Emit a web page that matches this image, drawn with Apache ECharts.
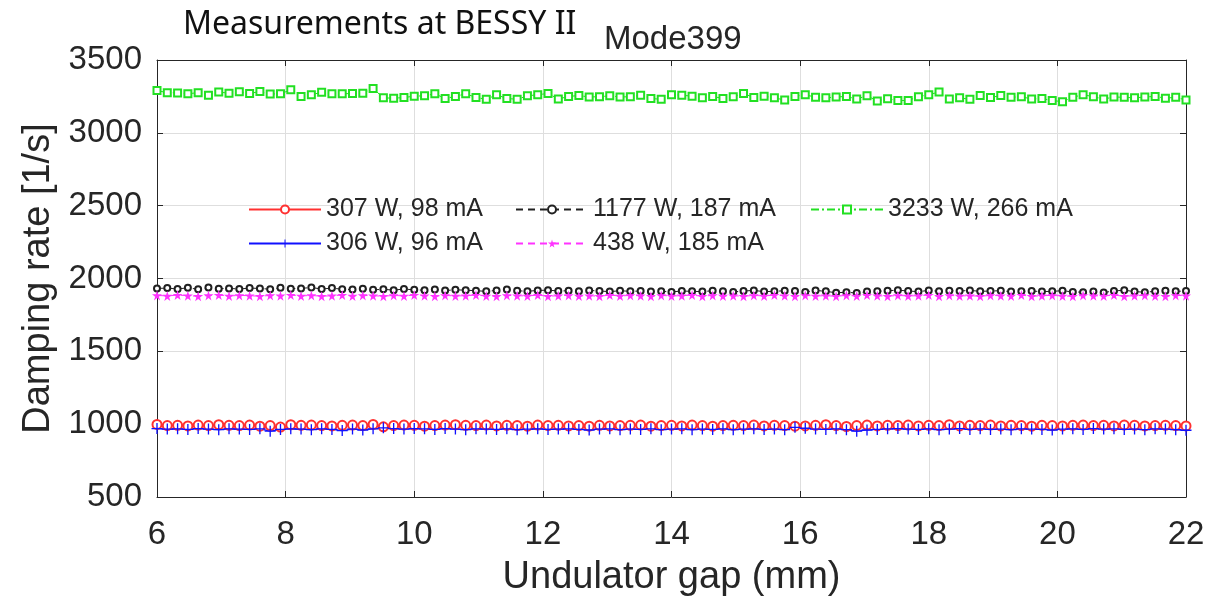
<!DOCTYPE html>
<html>
<head>
<meta charset="utf-8">
<script src="https://cdn.jsdelivr.net/npm/echarts@6/dist/echarts.min.js"></script>
<style>
html,body{margin:0;padding:0;background:#fff;}
#chart{width:1230px;height:603px;}
</style>
</head>
<body>
<div id="chart"></div>
<script>
// Undulator gap (mm)
const gaps = [6, 6.16, 6.32, 6.48, 6.64, 6.8, 6.96, 7.12, 7.28, 7.44, 7.6, 7.76, 7.92, 8.08, 8.24, 8.4, 8.56, 8.72, 8.88, 9.04, 9.2, 9.36, 9.52, 9.68, 9.84, 10, 10.16, 10.32, 10.48, 10.64, 10.8, 10.96, 11.12, 11.28, 11.44, 11.6, 11.76, 11.92, 12.08, 12.24, 12.4, 12.56, 12.72, 12.88, 13.04, 13.2, 13.36, 13.52, 13.68, 13.84, 14, 14.16, 14.32, 14.48, 14.64, 14.8, 14.96, 15.12, 15.28, 15.44, 15.6, 15.76, 15.92, 16.08, 16.24, 16.4, 16.56, 16.72, 16.88, 17.04, 17.2, 17.36, 17.52, 17.68, 17.84, 18, 18.16, 18.32, 18.48, 18.64, 18.8, 18.96, 19.12, 19.28, 19.44, 19.6, 19.76, 19.92, 20.08, 20.24, 20.4, 20.56, 20.72, 20.88, 21.04, 21.2, 21.36, 21.52, 21.68, 21.84, 22];

const seriesNames = ['307 W, 98 mA', '306 W, 96 mA', '1177 W, 187 mA', '438 W, 185 mA', '3233 W, 266 mA'];

const red307 = [998, 990, 992, 988, 994, 990, 996, 992, 990, 994,
  986, 990, 980, 996, 992, 994, 990, 988, 992, 994,
  990, 998, 982, 990, 994, 992, 986, 990, 994, 996,
  992, 990, 994, 988, 992, 990, 986, 994, 990, 992,
  988, 990, 986, 992, 988, 990, 992, 994, 986, 990,
  992, 988, 994, 990, 986, 990, 992, 990, 994, 988,
  992, 990, 986, 988, 992, 996, 990, 984, 990, 994,
  988, 992, 990, 994, 988, 992, 990, 996, 988, 992,
  990, 994, 988, 992, 990, 986, 992, 990, 988, 992,
  994, 990, 992, 988, 994, 992, 988, 990, 992, 990, 988];

const blue306 = [970, 966, 968, 964, 970, 966, 962, 968, 966, 964,
  968, 952, 964, 968, 966, 962, 968, 964, 956, 966,
  960, 968, 975, 970, 966, 970, 968, 964, 970, 966,
  962, 968, 966, 964, 968, 962, 966, 968, 964, 966,
  968, 964, 960, 966, 968, 962, 966, 964, 968, 962,
  966, 968, 962, 966, 964, 968, 962, 966, 968, 964,
  966, 962, 978, 972, 966, 964, 968, 962, 952, 960,
  964, 968, 970, 966, 964, 968, 962, 966, 970, 964,
  968, 964, 966, 962, 968, 966, 964, 960, 966, 968,
  964, 970, 966, 968, 964, 966, 962, 968, 966, 962, 958];

const black1177 = [1932, 1934, 1928, 1936, 1926, 1938, 1930, 1932, 1928, 1934,
  1932, 1926, 1936, 1930, 1932, 1938, 1928, 1934, 1926, 1924,
  1930, 1922, 1926, 1920, 1928, 1922, 1920, 1924, 1918, 1922,
  1920, 1916, 1912, 1918, 1924, 1916, 1912, 1918, 1920, 1914,
  1916, 1912, 1918, 1914, 1910, 1916, 1912, 1914, 1910, 1912,
  1908, 1914, 1912, 1910, 1916, 1912, 1908, 1914, 1918, 1910,
  1912, 1916, 1914, 1908, 1918, 1912, 1902, 1906, 1900, 1910,
  1912, 1916, 1920, 1914, 1910, 1918, 1912, 1916, 1914, 1918,
  1912, 1914, 1916, 1910, 1912, 1914, 1910, 1912, 1916, 1908,
  1906, 1910, 1904, 1914, 1920, 1910, 1906, 1912, 1916, 1912, 1914];

const magenta438 = [1884, 1880, 1886, 1882, 1878, 1884, 1886, 1880, 1884, 1882,
  1878, 1884, 1882, 1886, 1880, 1884, 1878, 1882, 1886, 1880,
  1884, 1882, 1878, 1884, 1880, 1886, 1882, 1878, 1884, 1880,
  1882, 1886, 1880, 1878, 1884, 1882, 1880, 1886, 1878, 1882,
  1884, 1880, 1882, 1878, 1886, 1880, 1884, 1882, 1878, 1884,
  1880, 1882, 1886, 1878, 1884, 1880, 1882, 1878, 1884, 1880,
  1886, 1882, 1878, 1884, 1880, 1882, 1878, 1884, 1880, 1886,
  1882, 1878, 1884, 1880, 1882, 1886, 1878, 1884, 1880, 1882,
  1878, 1884, 1882, 1880, 1886, 1878, 1882, 1884, 1880, 1878,
  1884, 1882, 1880, 1886, 1878, 1882, 1884, 1880, 1878, 1884, 1882];

const green3233 = [3290, 3276, 3274, 3268, 3276, 3258, 3280, 3272, 3282, 3270,
  3284, 3266, 3268, 3295, 3250, 3262, 3278, 3268, 3268, 3270,
  3272, 3305, 3240, 3238, 3242, 3252, 3254, 3268, 3236, 3250,
  3268, 3243, 3230, 3261, 3236, 3230, 3254, 3262, 3270, 3232,
  3250, 3256, 3246, 3248, 3254, 3246, 3248, 3258, 3236, 3230,
  3262, 3258, 3252, 3240, 3250, 3236, 3248, 3270, 3242, 3252,
  3240, 3225, 3250, 3262, 3244, 3240, 3246, 3250, 3232, 3255,
  3218, 3234, 3222, 3222, 3248, 3262, 3280, 3232, 3240, 3230,
  3256, 3242, 3256, 3244, 3248, 3232, 3235, 3222, 3214, 3244,
  3262, 3248, 3232, 3246, 3244, 3240, 3246, 3250, 3238, 3244, 3225];

const xTicks = {min: 6, max: 22, interval: 2};
const yTicks = {min: 500, max: 3500, interval: 500};

const pair = arr => gaps.map((g, i) => [g, arr[i]]);

const TXT = '#262626';
const FONT = '"Liberation Sans", Arial, sans-serif';
const plusPath = 'path://M4.4,0H5.6V4.4H10V5.6H5.6V10H4.4V5.6H0V4.4H4.4Z';
const starPath = 'path://M50,0L61,35L98,35L68,57L79,91L50,70L21,91L32,57L2,35L39,35Z';

const chart = echarts.init(document.getElementById('chart'), null, {renderer: 'canvas'});

const legendBase = {
  orient: 'horizontal', itemWidth: 72, itemHeight: 10, itemGap: 5,
  textStyle: {fontFamily: FONT, fontSize: 25, color: TXT},
  padding: 0
};

const option = {
  backgroundColor: '#ffffff',
  animation: false,
  title: [
    {text: 'Measurements at BESSY II', left: 178, top: 4,
     textStyle: {fontFamily: '"Noto Sans", sans-serif', fontWeight: 'normal', fontSize: 32, color: '#111'}},
    {text: 'Mode399', left: 599, top: 18,
     textStyle: {fontFamily: FONT, fontWeight: 'normal', fontSize: 33, color: TXT}}
  ],
  legend: [
    Object.assign({}, legendBase, {data: [seriesNames[0]], left: 248, top: 197}),
    Object.assign({}, legendBase, {data: [seriesNames[2]], left: 515, top: 197}),
    Object.assign({}, legendBase, {data: [seriesNames[4]], left: 810, top: 197}),
    Object.assign({}, legendBase, {data: [seriesNames[1]], left: 248, top: 231}),
    Object.assign({}, legendBase, {data: [seriesNames[3]], left: 515, top: 231})
  ],
  grid: {left: 157, right: 44, top: 60, bottom: 106, containLabel: false},
  xAxis: [
    {type: 'value', min: xTicks.min, max: xTicks.max, interval: xTicks.interval,
     name: 'Undulator gap (mm)', nameLocation: 'middle', nameGap: 62,
     nameTextStyle: {fontFamily: FONT, fontSize: 38, color: TXT},
     axisLine: {show: true, onZero: false, lineStyle: {color: TXT, width: 1}},
     axisTick: {show: true, inside: true, length: 6, lineStyle: {color: TXT}},
     axisLabel: {fontFamily: FONT, fontSize: 33, color: TXT, margin: 21},
     splitLine: {show: true, lineStyle: {color: '#dedede', width: 1}}},
    {type: 'value', position: 'top', min: xTicks.min, max: xTicks.max, interval: xTicks.interval,
     axisLine: {show: true, onZero: false, lineStyle: {color: TXT, width: 1}},
     axisTick: {show: true, inside: true, length: 6, lineStyle: {color: TXT}},
     axisLabel: {show: false}, splitLine: {show: false}}
  ],
  yAxis: [
    {type: 'value', min: yTicks.min, max: yTicks.max, interval: yTicks.interval,
     name: 'Damping rate [1/s]', nameLocation: 'middle', nameGap: 97, nameRotate: 90,
     nameTextStyle: {fontFamily: FONT, fontSize: 38, color: TXT},
     axisLine: {show: true, onZero: false, lineStyle: {color: TXT, width: 1}},
     axisTick: {show: true, inside: true, length: 6, lineStyle: {color: TXT}},
     axisLabel: {fontFamily: FONT, fontSize: 33, color: TXT, margin: 15,
                 formatter: v => String(v)},
     splitLine: {show: true, lineStyle: {color: '#dedede', width: 1}}},
    {type: 'value', position: 'right', min: yTicks.min, max: yTicks.max, interval: yTicks.interval,
     axisLine: {show: true, onZero: false, lineStyle: {color: TXT, width: 1}},
     axisTick: {show: true, inside: true, length: 6, lineStyle: {color: TXT}},
     axisLabel: {show: false}, splitLine: {show: false}}
  ],
  series: [
    {name: seriesNames[0], type: 'line', data: pair(red307),
     symbol: 'emptyCircle', symbolSize: 9,
     itemStyle: {color: '#ff3030', borderWidth: 1},
     lineStyle: {color: '#ff3030', width: 1, type: 'solid'}},
    {name: seriesNames[1], type: 'line', data: pair(blue306),
     symbol: plusPath, symbolSize: 11,
     itemStyle: {color: '#1010ff'},
     lineStyle: {color: '#1010ff', width: 1.2, type: 'solid'}},
    {name: seriesNames[2], type: 'line', data: pair(black1177),
     symbol: 'emptyCircle', symbolSize: 6,
     itemStyle: {color: '#202020', borderWidth: 1.3},
     lineStyle: {color: '#202020', width: 1, type: [7, 5]}},
    {name: seriesNames[3], type: 'line', data: pair(magenta438),
     symbol: starPath, symbolSize: 10,
     itemStyle: {color: '#ff33ff'},
     lineStyle: {color: '#ff33ff', width: 1, type: [7, 5]}},
    {name: seriesNames[4], type: 'line', data: pair(green3233),
     symbol: 'emptyRect', symbolSize: 7,
     itemStyle: {color: '#22e022', borderWidth: 1.2},
     lineStyle: {color: '#22e022', width: 1, type: [8, 3, 2, 3]}}
  ]
};
chart.setOption(option);
</script>
</body>
</html>
